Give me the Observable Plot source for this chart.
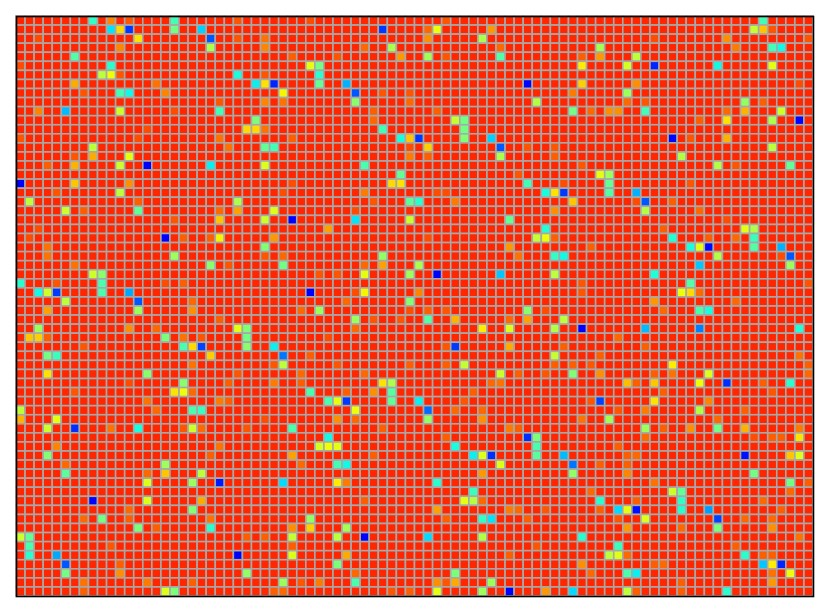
<!DOCTYPE html>
<html>
<head>
<meta charset="utf-8">
<script src="https://cdn.jsdelivr.net/npm/d3@7"></script>
<script src="https://cdn.jsdelivr.net/npm/@observablehq/plot@0.6"></script>
<style>html,body{margin:0;padding:0;background:#fff}svg{display:block}</style>
</head>
<body>
<div id="chart"></div>
<script>
const rowCount = 64;
const colCount = 88;
const baseValue = 0.87;
// per row: column, value pairs for the cells that differ from the base value
const rowCells = [
[8,.41,10,.77,12,.82,17,.43,24,.82,32,.83,47,.82,82,.43],
[10,.35,11,.68,12,.18,17,.49,20,.33,40,.18,45,.80,46,.64,52,.75,81,.59,82,.70,83,.82],
[2,.83,13,.67,21,.21,24,.82,27,.79,45,.76,51,.56,70,.83,78,.76,87,.82],
[11,.77,21,.56,27,.77,38,.80,41,.56,53,.80,64,.55,79,.78,83,.43,84,.37],
[6,.45,30,.81,35,.82,42,.75,45,.55,47,.82,53,.45,62,.81,64,.75,68,.58],
[0,.83,10,.40,32,.63,33,.49,62,.66,67,.61,70,.16,77,.37,83,.63],
[9,.58,10,.64,11,.82,24,.38,27,.82,33,.40],
[6,.73,15,.79,26,.36,27,.67,28,.16,33,.47,36,.30,56,.13,62,.69,68,.76,86,.83],
[7,.82,11,.43,12,.37,16,.77,29,.65,37,.21,40,.82,43,.82,61,.78,67,.54],
[22,.82,27,.77,29,.79,37,.52,43,.80,57,.57,67,.80,69,.82,80,.53,82,.81],
[2,.77,5,.31,11,.60,17,.83,22,.43,39,.81,46,.81,61,.49,63,.80,65,.76,66,.76,69,.43,78,.80,80,.72,84,.60],
[26,.50,39,.80,48,.59,49,.49,75,.81,78,.67,83,.56,86,.13],
[14,.83,25,.68,26,.68,27,.79,40,.43,49,.49],
[0,.82,13,.83,22,.79,30,.81,42,.38,43,.70,44,.18,49,.51,52,.33,72,.13,74,.82,78,.72],
[8,.58,23,.79,27,.47,28,.43,43,.83,45,.69,53,.21,56,.82,59,.82,83,.58],
[6,.82,8,.73,12,.63,43,.78,45,.81,53,.56,59,.81,73,.57],
[3,.81,6,.72,11,.60,14,.11,21,.36,27,.62,38,.44,62,.82,77,.57,79,.82,85,.47],
[42,.47,55,.82,64,.63,65,.54],
[0,.11,6,.70,12,.76,30,.83,41,.68,42,.67,56,.43,60,.83,65,.47,74,.82],
[4,.82,11,.58,29,.83,38,.78,46,.83,47,.83,58,.38,59,.67,60,.18,65,.45,68,.30],
[1,.58,13,.81,24,.56,39,.82,43,.46,44,.40,48,.78,61,.70,68,.83,69,.21,72,.81],
[5,.60,7,.81,13,.47,22,.80,24,.74,28,.62,37,.83,59,.76,69,.57,75,.80],
[17,.82,22,.70,27,.60,30,.11,37,.35,43,.60,54,.47,78,.83],
[2,.83,34,.74,58,.39,71,.81,80,.63,81,.56],
[1,.83,16,.12,18,.81,21,.81,22,.65,28,.75,45,.83,57,.59,58,.64,59,.81,72,.39,76,.81,79,.80,81,.42],
[3,.79,27,.51,54,.75,63,.81,74,.38,75,.63,76,.13,81,.45,84,.30],
[3,.79,17,.54,27,.82,29,.80,40,.53,55,.79,59,.41,60,.37,77,.57,84,.83,85,.21],
[6,.79,21,.52,23,.82,29,.49,38,.80,40,.74,44,.56,75,.32,85,.54],
[8,.60,9,.52,33,.82,35,.82,38,.63,43,.54,46,.12,53,.32,59,.58,70,.39],
[0,.40,4,.82,9,.44,16,.83,18,.81,62,.82,74,.45,87,.82],
[2,.37,3,.60,4,.18,9,.44,12,.29,32,.11,37,.83,38,.65,44,.77,62,.82,73,.64,74,.68,75,.80],
[5,.58,13,.21,19,.80,36,.80,43,.51,70,.75,79,.80],
[3,.74,13,.54,19,.76,31,.80,33,.54,43,.83,45,.81,47,.82,56,.52,58,.83,71,.80,75,.44,76,.38],
[22,.81,37,.54,39,.82,42,.82,45,.45,48,.72,54,.80,56,.74,60,.58],
[2,.54,12,.76,15,.80,24,.63,25,.51,37,.80,51,.66,54,.62,59,.57,62,.12,69,.31,75,.25,86,.39],
[1,.70,2,.69,3,.81,16,.50,18,.79,20,.82,25,.49,34,.83,66,.80],
[7,.82,18,.44,19,.68,20,.19,25,.52,28,.36,47,.82,48,.18,54,.73,60,.81,69,.81],
[3,.49,4,.42,21,.69,29,.24,32,.81,59,.59,64,.81,86,.79],
[19,.79,28,.82,29,.58,35,.82,43,.81,47,.81,49,.59,59,.81,61,.81,63,.82,72,.66,87,.81],
[3,.67,14,.52,24,.82,31,.80,38,.80,53,.60,55,.81,58,.82,61,.51,64,.76,70,.81,72,.79,76,.62,87,.80],
[12,.83,18,.52,23,.81,28,.78,31,.81,40,.67,41,.56,52,.80,53,.79,67,.71,68,.81,70,.70,75,.64,78,.17,82,.81,85,.40],
[6,.82,17,.67,18,.64,19,.80,32,.44,36,.81,39,.76,41,.45,50,.81,71,.81,83,.82],
[14,.79,22,.78,23,.81,34,.44,35,.63,36,.18,41,.47,44,.36,49,.82,63,.82,64,.19,70,.67,76,.77],
[0,.58,15,.80,19,.44,20,.42,37,.64,45,.23,48,.80,51,.80,66,.82,69,.78,75,.57,80,.81],
[0,.72,4,.63,27,.83,35,.76,37,.80,45,.53,51,.76,62,.79,65,.55,77,.80],
[3,.60,6,.17,10,.79,13,.38,18,.82,19,.60,20,.80,25,.82,30,.44,40,.81,54,.78,55,.81,69,.54,71,.81,74,.76,77,.49,80,.72,86,.78],
[34,.37,47,.81,56,.17,57,.50,69,.80,81,.83,83,.81,84,.81,86,.67],
[4,.77,22,.79,33,.61,34,.64,35,.63,48,.38,57,.44,66,.81],
[3,.51,21,.81,30,.74,39,.81,50,.36,51,.62,52,.17,57,.46,60,.31,67,.81,68,.80,80,.14,85,.70,86,.62],
[5,.80,16,.54,31,.80,35,.43,36,.37,53,.62,61,.24,64,.81,67,.81],
[5,.46,14,.80,16,.70,20,.58,51,.75,61,.53,67,.77,81,.49],
[14,.62,19,.54,22,.15,29,.34,35,.66,36,.78,46,.40,70,.79,85,.49,87,.81],
[50,.42,63,.80,72,.60,73,.47,85,.80],
[8,.11,14,.62,20,.73,38,.81,49,.63,50,.57,51,.80,64,.40,68,.81,73,.41,82,.80],
[12,.80,19,.51,46,.74,54,.78,55,.80,58,.82,64,.81,66,.34,67,.63,68,.14,73,.40,76,.28,84,.81],
[7,.80,9,.49,12,.81,21,.79,32,.53,47,.81,51,.41,52,.35,56,.81,66,.82,69,.62,77,.19,80,.80,83,.80],
[13,.50,15,.81,21,.40,30,.76,32,.69,36,.55,67,.75,73,.80,77,.50,83,.76],
[0,.60,1,.47,25,.81,27,.81,30,.59,35,.58,38,.12,45,.34,51,.57,62,.40,86,.79],
[1,.44,10,.82,30,.81,57,.82,66,.42,79,.81],
[1,.40,4,.29,24,.12,30,.62,36,.73,54,.81,65,.58,66,.62,67,.80,80,.40,82,.81,83,.81],
[5,.21,11,.81,35,.50,62,.76,70,.81,71,.80,82,.32,83,.66,84,.16],
[5,.49,11,.76,25,.53,37,.80,48,.50,63,.80,67,.44,68,.36,83,.79,85,.64],
[7,.79,14,.78,19,.81,29,.54,31,.82,33,.78,37,.44,46,.76,47,.82,48,.73,52,.54,73,.81,83,.75],
[7,.81,16,.62,17,.50,28,.81,29,.80,41,.82,43,.81,46,.63,51,.54,54,.12,58,.75,61,.34,67,.58,68,.81,73,.81,78,.40]
];
const jetStops = [0, .11, .125, .34, .35, .375, .64, .65, .66, .89, .91, 1];
const jetColors = ["#000080","#0000ff","#0000ff","#00dbff","#00e6f8","#14ffe2","#eeff08","#f7f500","#ffec00","#ff1300","#e80000","#800000"];

const table = [];
for (let r = 0; r < rowCount; r++) {
  const pairs = new Map();
  for (let i = 0; i < rowCells[r].length; i += 2) pairs.set(rowCells[r][i], rowCells[r][i + 1]);
  for (let c = 0; c < colCount; c++) {
    table.push({row: r, col: c, value: pairs.has(c) ? pairs.get(c) : baseValue});
  }
}

const chart = Plot.plot({
  width: 829,
  height: 612,
  marginTop: 16,
  marginLeft: 16,
  marginRight: 16,
  marginBottom: 16,
  style: {background: "#fff"},
  x: {type: "band", domain: d3.range(colCount), axis: null, padding: 0, round: false},
  y: {type: "band", domain: d3.range(rowCount), axis: null, padding: 0, round: false},
  color: {type: "linear", domain: jetStops, range: jetColors},
  marks: [
    Plot.cell(table, {x: "col", y: "row", fill: "value", stroke: "#a8a8a8", strokeWidth: 1.6}),
    Plot.frame({stroke: "#000", strokeWidth: 1.6})
  ]
});
document.getElementById("chart").appendChild(chart);
</script>
</body>
</html>
